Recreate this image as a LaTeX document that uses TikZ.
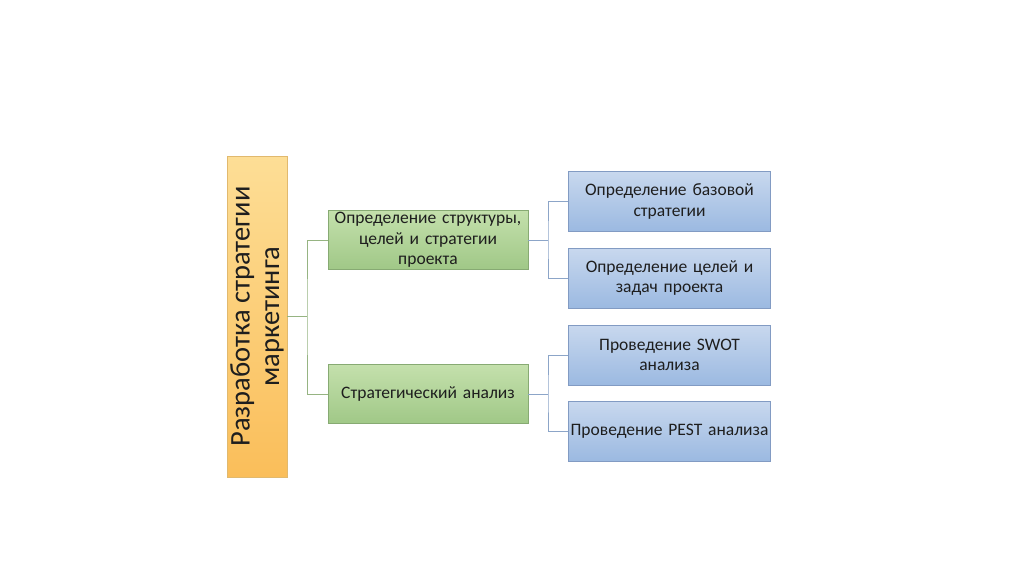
\documentclass[tikz,border=0pt]{standalone}
\usepackage{fontspec}
\setmainfont{Carlito}
\definecolor{otop}{RGB}{253,222,150}
\definecolor{obot}{RGB}{250,190,90}
\definecolor{oedge}{RGB}{225,185,110}
\definecolor{gtop}{RGB}{196,224,172}
\definecolor{gbot}{RGB}{160,200,135}
\definecolor{gedge}{RGB}{135,170,115}
\definecolor{btop}{RGB}{200,216,238}
\definecolor{bbot}{RGB}{155,185,225}
\definecolor{bedge}{RGB}{130,155,195}
\definecolor{gl}{RGB}{150,180,130}
\definecolor{bl}{RGB}{140,165,200}
\definecolor{txt}{RGB}{30,30,30}
\begin{document}
\begin{tikzpicture}[x=1pt,y=-1pt,
  base/.style={draw, line width=0.8pt, inner sep=1pt, align=center, text=txt, font=\fontsize{17.5}{20.5}\selectfont},
  obox/.style={base, draw=oedge, top color=otop, bottom color=obot, minimum width=60pt, minimum height=321pt},
  gbox/.style={base, draw=gedge, top color=gtop, bottom color=gbot, minimum width=200pt, minimum height=59pt, text width=198pt},
  bbox/.style={base, draw=bedge, top color=btop, bottom color=bbot, minimum width=201pt, minimum height=60pt, text width=200pt},
  gline/.style={draw=gl, line width=0.9pt},
  bline/.style={draw=bl, line width=0.9pt}]
\useasboundingbox (0,0) rectangle (1024,574);
\fill[white] (0,0) rectangle (1024,574);
\node[obox] (root) at (257,316.5) {};
\node[rotate=90, align=center, font=\fontsize{28.5}{29.5}\selectfont, text=txt] (roottext) at (root.center) {Разработка стратегии\\маркетинга};
\node[gbox] (g1) at (428,240) {Определение структуры,\\целей и стратегии\\проекта};
\node[gbox] (g2) at (428,394) {Стратегический анализ};
\node[bbox] (b1) at (669.5,201.5) {Определение базовой\\стратегии};
\node[bbox] (b2) at (669.5,278) {Определение целей и\\задач проекта};
\node[bbox] (b3) at (669.5,355) {Проведение SWOT\\анализа};
\node[bbox] (b4) at (669.5,431) {Проведение PEST анализа};
\coordinate (j0) at (307,316.5);
\coordinate (j1) at (548,240);
\coordinate (j2) at (548,394);
\draw[gline] (root.east) -- (j0);
\draw[gline] (g1.west) -| (j0) |- (g2.west);
\draw[bline] (g1.east) -- (j1);
\draw[bline] (b1.west) -| (j1) |- (b2.west);
\draw[bline] (g2.east) -- (j2);
\draw[bline] (b3.west) -| (j2) |- (b4.west);
\end{tikzpicture}
\end{document}
